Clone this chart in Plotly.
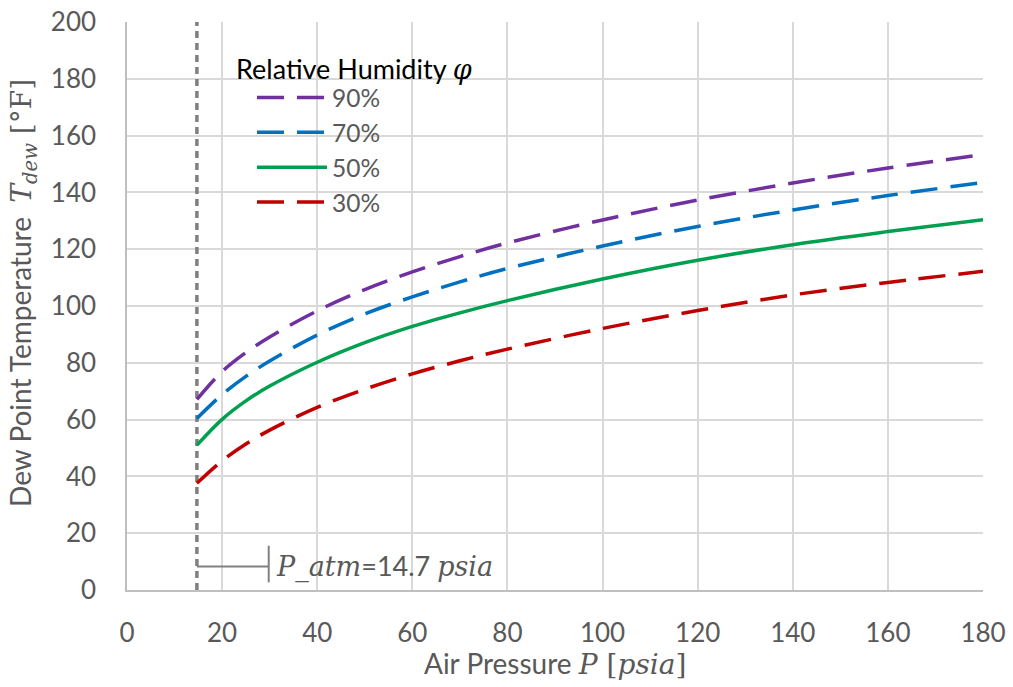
import plotly.graph_objects as go

# ---- data ----
pressure = [14.7, 20, 25, 30, 40, 50, 60, 70, 80, 100, 120, 140, 160, 180]
rh90 = [67.1, 76.9, 83.6, 89.1, 98.3, 105.8, 112.0, 117.4, 122.2, 130.3, 137.3, 143.3, 148.6, 153.3]
rh70 = [60.4, 68.8, 75.2, 80.6, 89.8, 97.2, 103.2, 108.5, 113.2, 121.1, 128.0, 133.8, 138.9, 143.5]
rh50 = [51.0, 60.1, 66.6, 71.8, 80.2, 87.1, 92.8, 97.6, 101.9, 109.5, 116.1, 121.6, 126.2, 130.4]
rh30 = [37.6, 45.5, 51.4, 56.3, 64.3, 70.7, 76.1, 80.7, 84.8, 92.1, 98.4, 103.9, 108.3, 112.2]
series_names = ["90%", "70%", "50%", "30%"]
p_atm = 14.7
p_atm_line_y = [0, 200]
x_ticks = list(range(0, 181, 20))
y_ticks = list(range(0, 201, 20))

SERIF = "DejaVu Serif"
SANS = "Lato"
GRAY_TXT = "#595959"

colors = ["#7030A0", "#0070C0", "#00A050", "#C00000"]
dashes = ["27px,13px", "27px,13px", "solid", "27px,13px"]

fig = go.Figure()
fig.add_trace(go.Scatter(x=[p_atm, p_atm], y=p_atm_line_y, mode="lines",
                         line=dict(color="#808080", width=3.5, dash="7px,5px"),
                         showlegend=False, hoverinfo="skip"))
for name, ys, c, d in zip(series_names, [rh90, rh70, rh50, rh30], colors, dashes):
    fig.add_trace(go.Scatter(x=pressure, y=ys, mode="lines", name=name,
                             line=dict(color=c, width=3.5, dash=d, shape="spline", smoothing=1.0)))

# P_atm bracket
fig.add_shape(type="line", x0=p_atm, x1=29.8, y0=8.3, y1=8.3,
              line=dict(color="#808080", width=2))
fig.add_shape(type="line", x0=29.8, x1=29.8, y0=2.7, y1=15.6,
              line=dict(color="#808080", width=2))
fig.add_annotation(x=31.0, y=8.3, xref="x", yref="y", xanchor="left", yanchor="middle",
                   showarrow=False,
                   text=f'<span style="font-family:{SERIF}"><i>P_atm</i></span>=14.7 '
                        f'<span style="font-family:{SERIF}"><i>psia</i></span>',
                   font=dict(family=SANS, size=27, color=GRAY_TXT))

# axis titles as annotations
fig.add_annotation(x=0.5, y=-0.130, xref="paper", yref="paper", showarrow=False,
                   xanchor="center", yanchor="middle",
                   text=f'Air Pressure <span style="font-family:{SERIF}"><i>P</i> [<i>psia</i>]</span>',
                   font=dict(family=SANS, size=28, color=GRAY_TXT))
fig.add_annotation(x=-0.1215, y=0.523, xref="paper", yref="paper", showarrow=False,
                   xanchor="center", yanchor="middle", textangle=-90,
                   text=f'Dew Point Temperature  <span style="font-family:{SERIF}"><i>T</i><sub><i>dew</i></sub> [°F]</span>',
                   font=dict(family=SANS, size=28, color=GRAY_TXT))

# legend title as annotation
fig.add_annotation(x=(234 - 127) / 856, y=(590 - 68) / 568, xref="paper", yref="paper",
                   showarrow=False, xanchor="left", yanchor="middle",
                   text=f'Relative Humidity <span style="font-family:{SERIF}"><i>φ</i></span>',
                   font=dict(family=SANS, size=27, color="black"))

axis_common = dict(showgrid=True, gridcolor="#d9d9d9", gridwidth=1.5, zeroline=False,
                   showline=True, linecolor="#bfbfbf", linewidth=1.5, automargin=False,
                   ticks="outside", tickcolor="rgba(0,0,0,0)",
                   tickfont=dict(family=SANS, size=26, color=GRAY_TXT))
fig.update_xaxes(range=[0, 180], tickvals=x_ticks, ticklen=19, **axis_common)
fig.update_yaxes(range=[0, 200], tickvals=y_ticks, ticklen=24, **axis_common)

fig.update_layout(
    width=1013, height=687,
    margin=dict(l=127, r=30, t=22, b=97, autoexpand=False),
    paper_bgcolor="white", plot_bgcolor="white",
    font=dict(family=SANS, size=26, color=GRAY_TXT),
    legend=dict(x=(252 - 127) / 856, y=(590 - 75) / 568, xanchor="left", yanchor="top",
                bgcolor="rgba(0,0,0,0)", itemwidth=70, tracegroupgap=0,
                font=dict(family=SANS, size=24.5, color=GRAY_TXT)),
)

fig.write_html("out.html", config={"displayModeBar": False},
               post_script="document.body.style.margin='0';document.body.style.overflow='hidden';")
